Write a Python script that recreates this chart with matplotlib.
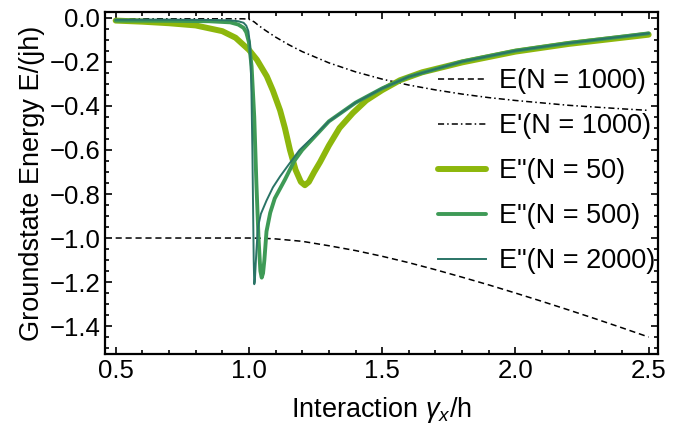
import matplotlib
matplotlib.use('Agg')

import numpy as np
from matplotlib import pyplot as plt
from matplotlib.ticker import MultipleLocator, FuncFormatter

plt.rcParams['font.family'] = ['Liberation Sans', 'DejaVu Sans']
plt.rcParams['mathtext.fontset'] = 'custom'
plt.rcParams['mathtext.rm'] = 'Liberation Sans'
plt.rcParams['mathtext.it'] = 'Liberation Sans:italic'

# E(N = 1000), dashed
x_e = [0.5, 0.6, 0.7, 0.8, 0.9, 0.95, 1.0, 1.05, 1.1, 1.2, 1.3, 1.4, 1.5, 1.6, 1.7,
       1.8, 1.9, 2.0, 2.1, 2.2, 2.3, 2.4, 2.5]
y_e = [-1.0, -1.0, -1.0, -1.0, -1.0, -1.0, -1.0, -1.001, -1.004, -1.015, -1.035, -1.057,
       -1.083, -1.112, -1.144, -1.178, -1.213, -1.25, -1.288, -1.327, -1.367, -1.408, -1.45]

# E'(N = 1000), dash-dot
x_ep = [0.5, 0.7, 0.9, 0.98, 1.0, 1.02, 1.034, 1.06, 1.1, 1.15, 1.2, 1.3, 1.4, 1.5, 1.6,
        1.7, 1.8, 1.9, 2.0, 2.2, 2.4, 2.5]
y_ep = [-0.004, -0.004, -0.004, -0.004, -0.006, -0.018, -0.032, -0.055, -0.087, -0.122,
        -0.153, -0.204, -0.245, -0.278, -0.305, -0.327, -0.346, -0.362, -0.375, -0.397,
        -0.413, -0.42]

# E''(N = 50)
x_50 = [0.5, 0.6, 0.7, 0.8, 0.9, 0.95, 1.0, 1.03, 1.067, 1.09, 1.117, 1.135, 1.154, 1.175,
        1.195, 1.21, 1.225, 1.245, 1.267, 1.3, 1.34, 1.39, 1.44, 1.5, 1.567, 1.65, 1.8,
        2.0, 2.2, 2.4, 2.5]
y_50 = [-0.012, -0.017, -0.024, -0.034, -0.06, -0.09, -0.145, -0.19, -0.265, -0.33, -0.42,
        -0.5, -0.6, -0.69, -0.745, -0.76, -0.745, -0.70, -0.655, -0.58, -0.5, -0.432,
        -0.375, -0.328, -0.283, -0.247, -0.202, -0.153, -0.118, -0.09, -0.076]

# E''(N = 500)
x_500 = [0.5, 0.7, 0.85, 0.93, 0.96, 0.98, 0.99, 1.0, 1.01, 1.02, 1.028, 1.036, 1.043,
         1.048, 1.053, 1.058, 1.066, 1.08, 1.097, 1.135, 1.17, 1.2, 1.3, 1.4, 1.5, 1.6,
         1.8, 2.0, 2.2, 2.4, 2.5]
y_500 = [-0.012, -0.013, -0.015, -0.02, -0.03, -0.045, -0.065, -0.11, -0.22, -0.45,
         -0.75, -1.0, -1.15, -1.18, -1.16, -1.1, -0.97, -0.885, -0.82, -0.735, -0.65,
         -0.6, -0.47, -0.385, -0.32, -0.267, -0.198, -0.149, -0.114, -0.085, -0.07]

# E''(N = 2000)
x_2000 = [0.5, 0.7, 0.85, 0.93, 0.96, 0.98, 0.99, 0.998, 1.004, 1.009, 1.013, 1.016,
          1.018, 1.02, 1.022, 1.028, 1.034, 1.045, 1.066, 1.09, 1.117, 1.15, 1.19, 1.25,
          1.3, 1.4, 1.5, 1.6, 1.8, 2.0, 2.2, 2.4, 2.5]
y_2000 = [-0.008, -0.008, -0.009, -0.011, -0.015, -0.022, -0.035, -0.06, -0.12, -0.3,
          -0.6, -0.9, -1.1, -1.21, -1.2, -1.06, -0.95, -0.89, -0.83, -0.77, -0.72, -0.665,
          -0.6, -0.53, -0.47, -0.385, -0.32, -0.267, -0.198, -0.149, -0.114, -0.085, -0.07]


def fmt(v, pos):
    s = '%.1f' % v
    if s == '-0.0':
        s = '0.0'
    return s.replace('-', '\u2212')


fig = plt.figure(figsize=(6.83, 4.26), dpi=100)
ax = fig.add_axes([105/683, 72/426, 553/683, 342/426])

ax.plot(x_e, y_e, color='black', lw=1.1, dashes=(4, 2.5), label='E(N = 1000)')
ax.plot(x_ep, y_ep, color='black', lw=1.1, dashes=(4, 2, 1, 2), label="E'(N = 1000)")
ax.plot(x_50, y_50, color='#8db70c', lw=4.3, solid_capstyle='round', label='E"(N = 50)')
ax.plot(x_500, y_500, color='#3e9a56', lw=2.8, solid_capstyle='round', label='E"(N = 500)')
ax.plot(x_2000, y_2000, color='#2a7466', lw=1.4, label='E"(N = 2000)')

ax.set_xlim(0.46, 2.535)
ax.set_ylim(-1.527, 0.027)
ax.xaxis.set_major_locator(MultipleLocator(0.5))
ax.xaxis.set_minor_locator(MultipleLocator(0.1))
ax.yaxis.set_major_locator(MultipleLocator(0.2))
ax.yaxis.set_minor_locator(MultipleLocator(0.05))
ax.xaxis.set_major_formatter(FuncFormatter(fmt))
ax.yaxis.set_major_formatter(FuncFormatter(fmt))
ax.tick_params(which='both', direction='in', top=True, right=True, width=1.2, labelsize=18.5)
ax.tick_params(which='major', length=5)
ax.tick_params(which='minor', length=3)
for s in ax.spines.values():
    s.set_linewidth(1.6)

ax.set_xlabel('Interaction $\\gamma_x$/h', fontsize=19.5, labelpad=9)
ax.set_ylabel('Groundstate Energy E/(jh)', fontsize=19.5, labelpad=3)

ax.legend(loc='upper left', bbox_to_anchor=(0.603, 0.835), frameon=False, fontsize=19.5,
          handlelength=1.75, handletextpad=0.48, labelspacing=0.7, borderpad=0,
          borderaxespad=0)

plt.savefig('out.png')
